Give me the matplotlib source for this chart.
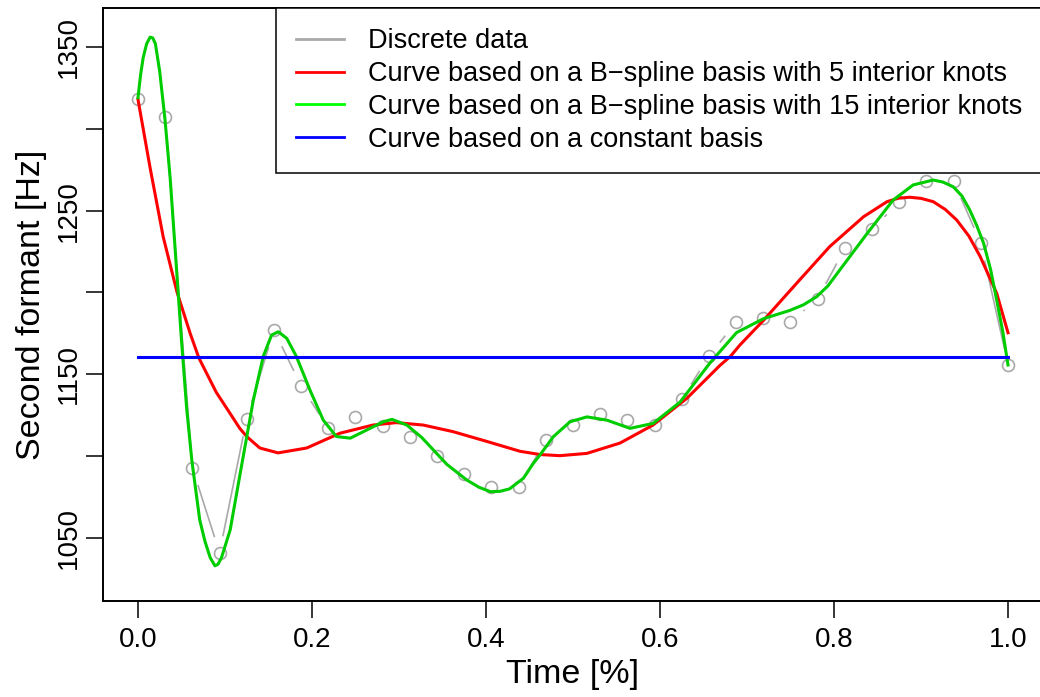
import matplotlib.pyplot as plt
from matplotlib.lines import Line2D

plt.rcParams['font.family'] = ['Liberation Sans', 'DejaVu Sans']

# discrete formant measurements (33 equally spaced samples)
time = [i / 32 for i in range(33)]
f2 = [1318, 1307, 1093, 1041, 1123, 1177, 1143, 1117, 1124, 1118.5, 1112,
      1100, 1089, 1081, 1081, 1110, 1119, 1126, 1122, 1119, 1135, 1161,
      1182, 1184.5, 1182, 1196, 1227, 1239, 1255, 1268, 1268, 1230, 1156]

# smooth curve, B-spline basis with 5 interior knots
t5 = [0.000, 0.014, 0.029, 0.045, 0.060, 0.070, 0.090, 0.106, 0.117, 0.125,
      0.140, 0.161, 0.194, 0.232, 0.270, 0.297, 0.328, 0.362, 0.401, 0.439,
      0.462, 0.485, 0.516, 0.554, 0.592, 0.631, 0.669, 0.681, 0.692, 0.719,
      0.757, 0.795, 0.834, 0.861, 0.874, 0.887, 0.900, 0.914, 0.928, 0.941,
      0.955, 0.968, 0.987, 1.000]
f5 = [1318, 1276, 1234, 1200, 1175, 1160, 1139, 1126, 1117, 1112,
      1105, 1102, 1105, 1114, 1119, 1120.5, 1119, 1115, 1109, 1103,
      1101, 1100.3, 1101.7, 1108, 1119, 1135.4, 1155.5, 1161, 1168, 1183,
      1205.6, 1228, 1246.3, 1255.5, 1257.6, 1258.2, 1257.5, 1255.5, 1250.7, 1244.3,
      1234.5, 1222, 1199.5, 1175.4]

# smooth curve, B-spline basis with 15 interior knots
t15 = [0.000, 0.003, 0.006, 0.010, 0.014, 0.017, 0.020, 0.025, 0.031, 0.037,
       0.0445, 0.050, 0.056, 0.062, 0.071, 0.077, 0.083, 0.0885, 0.092, 0.096,
       0.106, 0.117, 0.1325, 0.144, 0.1536, 0.1613, 0.171, 0.182, 0.198, 0.213,
       0.228, 0.244, 0.263, 0.282, 0.292, 0.309, 0.326, 0.355, 0.378, 0.392,
       0.405, 0.416, 0.427, 0.443, 0.4544, 0.462, 0.4774, 0.4966, 0.516, 0.539,
       0.5655, 0.592, 0.623, 0.6575, 0.688, 0.719, 0.749, 0.765, 0.780, 0.793,
       0.807, 0.838, 0.868, 0.891, 0.914, 0.925, 0.937, 0.947, 0.956, 0.964,
       0.972, 0.980, 0.987, 0.994, 1.000]
f15 = [1319, 1333, 1343.5, 1352, 1356, 1355.5, 1352, 1335, 1306, 1270,
       1213, 1171, 1129, 1097, 1061, 1048, 1038, 1033, 1034, 1038,
       1055, 1088, 1134, 1161, 1174, 1176, 1172, 1161, 1140, 1122,
       1112, 1111, 1116, 1121, 1122.5, 1119, 1111.5, 1095, 1085.4, 1081,
       1078.3, 1078.5, 1080, 1086.5, 1095.6, 1100.7, 1111.9, 1121, 1124, 1122,
       1117, 1120, 1133, 1157, 1175.5, 1184, 1189, 1192.5, 1197.4, 1204,
       1214, 1236, 1256.5, 1265.7, 1268.7, 1267.5, 1264.6, 1259, 1250.4, 1241,
       1230, 1214, 1195.4, 1176, 1155.7]

# constant basis
t0 = [0.0, 1.0]
f0 = [1160.6, 1160.6]

grey = '#A9A9A9'

fig = plt.figure(figsize=(10.4, 6.97), dpi=100)
ax = fig.add_axes([0.0992, 0.1377, 0.9035, 0.8508])

# type="b" look: line with gaps around the points
ax.plot(time, f2, color=grey, lw=1.2)
ax.plot(time, f2, 'o', ms=25, mfc='white', mec='none')
ax.plot(time, f2, 'o', ms=8.6, mfc='none', mec=grey, mew=1.2)

ax.plot(t5, f5, color='#FF0000', lw=2.2)
ax.plot(t15, f15, color='#00CD00', lw=2.2)
ax.plot(t0, f0, color='#0000FF', lw=2.2)

ax.set_xlim(-0.04, 1.04)
ax.set_ylim(1011.5, 1373.8)
ax.set_xticks([0.0, 0.2, 0.4, 0.6, 0.8, 1.0])
ax.set_xticklabels(['0.0', '0.2', '0.4', '0.6', '0.8', '1.0'])
ax.set_yticks([1050, 1100, 1150, 1200, 1250, 1300, 1350])
ax.set_yticklabels(['1050', '', '1150', '', '1250', '', '1350'],
                   rotation=90, va='center')
ax.tick_params(axis='both', labelsize=20, length=12, width=1.1)
ax.tick_params(axis='x', pad=7)
ax.tick_params(axis='y', pad=3)
for s in ax.spines.values():
    s.set_linewidth(1.4)

ax.set_xlabel('Time [%]', fontsize=24.5, labelpad=4)
ax.set_ylabel('Second formant [Hz]', fontsize=24.5, labelpad=7)

handles = [Line2D([], [], color=grey, lw=2),
           Line2D([], [], color='#FF0000', lw=2),
           Line2D([], [], color='#00FF00', lw=2),
           Line2D([], [], color='#0000FF', lw=2)]
labels = ['Discrete data',
          'Curve based on a B\u2212spline basis with 5 interior knots',
          'Curve based on a B\u2212spline basis with 15 interior knots',
          'Curve based on a constant basis']
leg = ax.legend(handles, labels, loc='upper right', bbox_to_anchor=(1, 1),
                borderaxespad=0, fontsize=19.5, fancybox=False, framealpha=1,
                edgecolor='black', handlelength=1.77, handletextpad=0.89,
                labelspacing=0.25, borderpad=0.75)
leg.get_frame().set_linewidth(1.1)

plt.savefig('out.png', dpi=100)
plt.close()
